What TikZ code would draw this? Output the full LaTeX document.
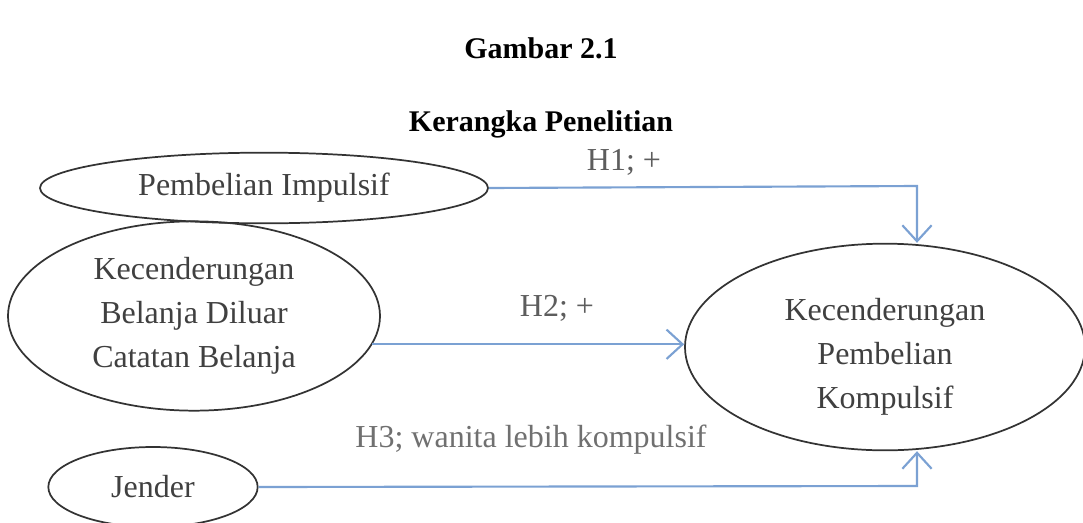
\documentclass[tikz,border=0pt]{standalone}
\usepackage{fontspec}
\setmainfont{Liberation Serif}
\usetikzlibrary{shapes.geometric,arrows.meta}

\definecolor{linkblue}{HTML}{7BA1D3}
\definecolor{txtgray}{HTML}{404040}

\tikzset{
  varbox/.style={draw=black!80, line width=1.3pt, ellipse, inner sep=0pt,
    align=center, text=txtgray, font=\fontsize{24}{33}\selectfont},
  link/.style={draw=linkblue, line width=1.6pt,
    -{Straight Barb[length=12pt,width=22pt,line width=1.6pt]}},
  hlabel/.style={text=txtgray!85, font=\fontsize{24}{28}\selectfont},
  title/.style={font=\fontsize{22.5}{26}\selectfont\bfseries}
}

\begin{document}
\begin{tikzpicture}[x=0.75pt, y=-0.75pt]
				\useasboundingbox (0,0) rectangle (1083,522);
				\node[title] (T1) at (541,48) {Gambar 2.1};
				\node[title] (T2) at (541,124) {Kerangka Penelitian};
				\node[varbox, minimum width=336pt, minimum height=53pt] (PI) at (264,188) {Pembelian Impulsif};
				\node[varbox, minimum width=279pt, minimum height=142pt] (KB) at (194,316) {Kecenderungan\\Belanja Diluar\\Catatan Belanja};
				\node[varbox, minimum width=300pt, minimum height=155pt] (KP) at (885,347) {\rule{0pt}{31pt}Kecenderungan\\Pembelian\\Kompulsif};
				\node[varbox, minimum width=157pt, minimum height=60pt] (J) at (153,487) {Jender};
				\coordinate (A1) at (917,186);
				\coordinate (A3) at (917,486);
				\draw[link] (PI.east) -- (A1) -- (A1 |- KP.north);
				\draw[link] (KB.-9) -- (KB.-9 -| KP.west);
				\draw[link] (J.east) -- (A3) -- (A3 |- KP.south);
				\node[hlabel] (H1) at (624,162) {H1; +};
				\node[hlabel] (H2) at (557,308) {H2; +};
				\node[hlabel, text=txtgray!75] (H3) at (531,440) {H3; wanita lebih kompulsif};
			\end{tikzpicture}
\end{document}
